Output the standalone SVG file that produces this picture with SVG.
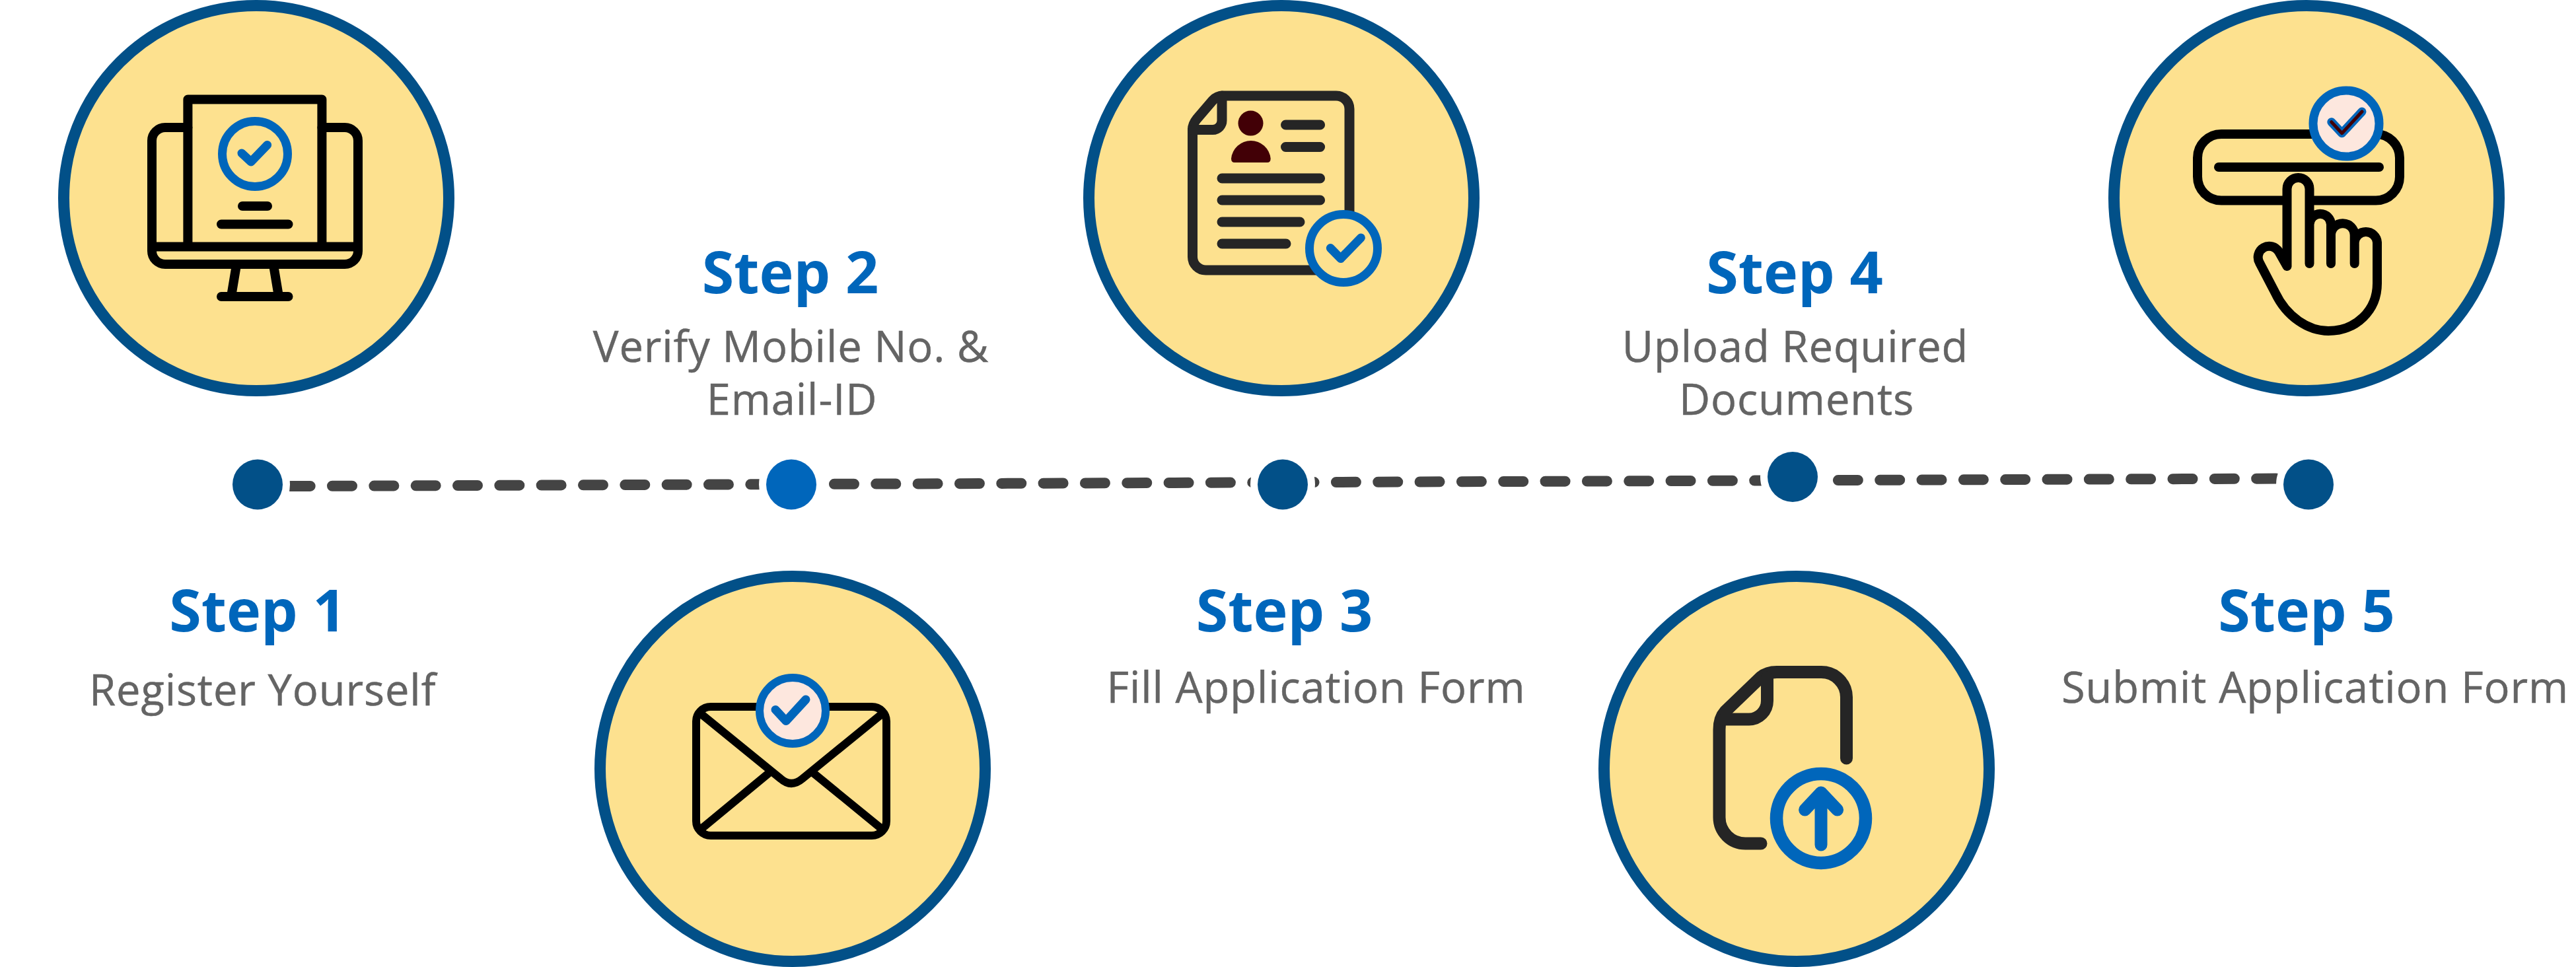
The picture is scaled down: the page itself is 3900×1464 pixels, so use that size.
<svg xmlns="http://www.w3.org/2000/svg" width="3900" height="1464" viewBox="0 0 3900 1464">
<style>
.disc{fill:#fde18f;stroke:#025088;stroke-width:17}
.dot{fill:#025088;stroke:#fff;stroke-width:22;paint-order:stroke}
.blk,.drk,.blu{fill:none;stroke-linecap:round;stroke-linejoin:round}
.blk{stroke:#000;stroke-width:14}
.drk{stroke:#252525;stroke-width:15}
.blu{stroke:#0066bb;stroke-width:13}
.ring{stroke:#0066bb;stroke-width:13;fill:#fde18f}
.pale{fill:#fde7de}
.hd{font:700 88px "Open Sans","Noto Sans",sans-serif;fill:#0066bb;text-anchor:middle}
.tx{font:500 65px "Open Sans","Noto Sans",sans-serif;fill:#646464;stroke:#646464;stroke-width:.5px;text-anchor:middle;letter-spacing:.9px}
</style>
<g id="connectors">
<line x1="439.67" y1="736" x2="3480" y2="724.4" fill="none" stroke="#444" stroke-width="16" stroke-linecap="round" stroke-dasharray="30 33.33"/>
</g>
<g id="step1">
<circle class="dot" cx="390" cy="733.5" r="38"/>
<circle class="disc" cx="388" cy="300" r="291.5"/>
<path class="blk" d="M284.4,193H250a20,20 0 0 0 -20,20V380a20,20 0 0 0 20,20H522a20,20 0 0 0 20,-20V213a20,20 0 0 0 -20,-20H487.4"/>
<path class="blk" d="M230,373.5H542M284.4,373.5V150.5H487.4V373.5M367,312H405M335,339.5H436.5M335,449H436.5M357,407L350,449M415,407L422,449"/>
<circle class="ring" cx="386" cy="233" r="49.5"/>
<path class="blu" d="M366,232L380,245L404.6,219.5" stroke-width="14"/>
<text class="hd" x="390" y="956">Step 1</text>
<text class="tx" x="397.75" y="1067.7">Register Yourself</text>
</g>
<g id="step2">
<circle class="dot" cx="1198" cy="733.5" r="38" style="fill:#0066bb"/>
<circle class="disc" cx="1200" cy="1164" r="291.5"/>
<rect class="blk" x="1054" y="1070" width="288" height="195" rx="22" style="stroke-width:12"/>
<path class="blk" style="stroke-width:12" d="M1061.6,1081L1182,1179Q1198,1193 1214.7,1179L1335,1081M1061.6,1255L1164.5,1170M1335,1255L1231,1170"/>
<circle class="ring pale" cx="1200" cy="1076" r="50" style="stroke-width:12"/>
<path class="blu" d="M1174,1074.4L1190,1091.6L1220,1059"/>
<text class="hd" x="1196.5" y="444">Step 2</text>
<text class="tx" x="1197.5" y="547.7">Verify Mobile No. &amp;</text>
<text class="tx" x="1199" y="627.7">Email-ID</text>
</g>
<g id="step3">
<circle class="dot" cx="1942" cy="733.5" r="38"/>
<circle class="disc" cx="1940" cy="300" r="291.5"/>
<path class="drk" d="M2043,330V165a20,20 0 0 0 -20,-20H1852q-10,0 -16,7L1812,180q-6.5,8 -6.5,16V389a20,20 0 0 0 20,20H1995"/>
<path class="drk" d="M1850,145V182a14,14 0 0 1 -14,14.5H1805.5M1946.5,189H1998.6M1946.5,222.5H1998.6M1850,270H1998.6M1850,303H1998.6M1850,336H1968M1850,369H1947"/>
<circle cx="1893.5" cy="186.6" r="19" fill="#420006"/>
<path fill="#420006" d="M1864,240a30,30 0 0 1 59.7,0q0,6 -5,6H1869q-5,0 -5,-6Z"/>
<circle class="ring" cx="2034" cy="376" r="51.5"/>
<path class="blu" d="M2014.3,375.6L2029.8,391.5L2060.4,360"/>
<text class="hd" x="1944.5" y="956">Step 3</text>
<text class="tx" x="1992.5" y="1063.7">Fill Application Form</text>
</g>
<g id="step4">
<circle class="dot" cx="2714" cy="722" r="38"/>
<circle class="disc" cx="2720" cy="1164" r="291.5"/>
<path class="drk" style="stroke-width:19" d="M2795.5,1148V1055.6a38,38 0 0 0 -38,-38H2690q-15,0 -25,8.4L2612,1077q-9,10 -9,27.5V1237.6a39.5,39.5 0 0 0 40,39.4H2666"/>
<path class="drk" style="stroke-width:19" d="M2675.5,1026V1061a28,28 0 0 1 -27.5,28H2610"/>
<circle class="ring" cx="2757" cy="1239" r="67.5" style="stroke-width:19.5"/>
<path class="blu" style="stroke-width:19" d="M2757,1279V1200M2732.6,1226L2757,1200L2781.6,1226"/>
<text class="hd" x="2717" y="444">Step 4</text>
<text class="tx" x="2718" y="547.7">Upload Required</text>
<text class="tx" x="2720" y="627.7">Documents</text>
</g>
<g id="step5">
<circle class="dot" cx="3495" cy="733.5" r="38"/>
<circle class="disc" cx="3492" cy="300" r="291.5"/>
<rect class="blk" x="3327" y="203" width="306" height="100.5" rx="36"/>
<path class="blk" d="M3359,253H3602"/>
<path fill="#fde18f" d="M3462.5,286a17,17 0 0 1 34,0V330a16.25,16.25 0 0 1 32.5,10a17.8,17.8 0 0 1 35.7,16a17,17 0 0 1 34.3,11V429C3599,470 3567,501 3525,501C3495,501 3462,480 3444.5,443L3421,398A16,16 0 0 1 3450,381L3462.5,403Z"/>
<path class="blk" d="M3462.5,403V286a17,17 0 0 1 34,0V399M3496.5,340a16.25,16.25 0 0 1 32.5,0V399M3529,356a17.8,17.8 0 0 1 35.7,0V399M3564.7,367a17.2,17.2 0 0 1 34.3,0V429C3599,470 3567,501 3525,501C3495,501 3462,480 3444.5,443L3421,398A16.5,16.5 0 0 1 3450,381L3462.5,403"/>
<circle class="ring pale" cx="3552" cy="187" r="50"/>
<path class="blu" d="M3529.8,184.7L3545.7,201.7L3576,169"/>
<path class="blu" style="stroke:#400008;stroke-width:5" d="M3529.8,184.7L3545.7,201.7L3576,169"/>
<text class="hd" x="3492" y="956">Step 5</text>
<text class="tx" x="3505" y="1063.7">Submit Application Form</text>
</g>
</svg>
